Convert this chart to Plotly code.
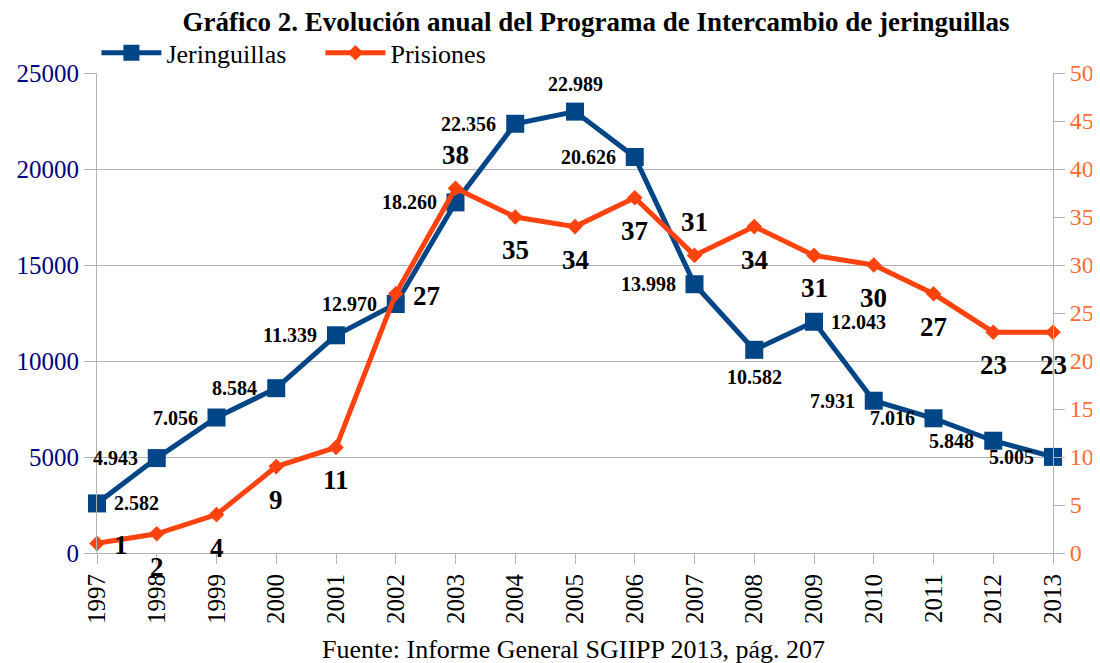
import plotly.graph_objects as go

years = list(range(1997, 2014))
jeringuillas = [2582, 4943, 7056, 8584, 11339, 12970, 18260, 22356, 22989, 20626,
                13998, 10582, 12043, 7931, 7016, 5848, 5005]
prisiones = [1, 2, 4, 9, 11, 27, 38, 35, 34, 37, 31, 34, 31, 30, 27, 23, 23]

# label placement codes (style only)
jer_pos = ['r', 'l', 'l', 'l', 'l', 'l', 'l', 'l', 't', 'l', 'l', 'b', 'r', 'l', 'l', 'l', 'l']
pri_pos = ['r', 'b', 'b', 'b', 'b', 'r', 't', 'b', 'b', 'b', 't', 'b', 'b', 'b', 'b', 'b', 'b']

BLUE = '#004586'
ORANGE = '#ff420e'
GRID = '#b3b3b3'
FONT = '"Liberation Serif", "Times New Roman", serif'

fig = go.Figure()
fig.add_trace(go.Scatter(
    x=years, y=jeringuillas, name='Jeringuillas', mode='lines+markers',
    line=dict(color=BLUE, width=5), marker=dict(symbol='square', size=18, color=BLUE),
    cliponaxis=False, yaxis='y'))
fig.add_trace(go.Scatter(
    x=years, y=prisiones, name='Prisiones', mode='lines+markers',
    line=dict(color=ORANGE, width=5), marker=dict(symbol='diamond', size=12, color=ORANGE),
    cliponaxis=False, yaxis='y2'))

annotations = []

def fmt(v):
    return f"{v:,}".replace(",", ".")

for x, v, p in zip(years, jeringuillas, jer_pos):
    a = dict(x=x, y=v, xref='x', yref='y', text='<b>' + fmt(v) + '</b>', showarrow=False,
             font=dict(family=FONT, size=20, color='black'))
    if p == 'l':
        a.update(xanchor='right', yanchor='middle', xshift=-17)
    elif p == 'r':
        a.update(xanchor='left', yanchor='middle', xshift=15)
    elif p == 't':
        a.update(xanchor='center', yanchor='middle', yshift=28)
    else:
        a.update(xanchor='center', yanchor='middle', yshift=-27)
    annotations.append(a)

for x, v, p in zip(years, prisiones, pri_pos):
    a = dict(x=x, y=v, xref='x', yref='y2', text='<b>' + str(v) + '</b>', showarrow=False,
             font=dict(family=FONT, size=27, color='black'))
    if p == 'r':
        a.update(xanchor='left', yanchor='middle', xshift=15, yshift=-2)
    elif p == 't':
        a.update(xanchor='center', yanchor='middle', yshift=33)
    else:
        a.update(xanchor='center', yanchor='middle', yshift=-33)
    annotations.append(a)

annotations.append(dict(
    text='Fuente: Informe General SGIIPP 2013, pág. 207', xref='paper', yref='paper',
    x=0.498, y=-0.20, xanchor='center', yanchor='middle', showarrow=False,
    font=dict(family=FONT, size=26, color='black')))

fig.update_layout(
    width=1092, height=655,
    margin=dict(l=89, r=47, t=65, b=110, autoexpand=False),
    paper_bgcolor='white', plot_bgcolor='white',
    font=dict(family=FONT, color='black'),
    title=dict(text='<b>Gráfico 2. Evolución anual del Programa de Intercambio de jeringuillas</b>',
               x=0.5385, xanchor='center', y=0.9786, yanchor='middle',
               font=dict(family=FONT, size=27, color='black')),
    legend=dict(orientation='h', x=-0.0006, xanchor='left', y=1.042, yanchor='middle',
                font=dict(family=FONT, size=26, color='black'),
                bgcolor='rgba(0,0,0,0)', itemwidth=60, tracegroupgap=0,
                entrywidth=149, entrywidthmode='pixels'),
    showlegend=True,
    annotations=annotations,
    xaxis=dict(range=[1997, 2013], tickvals=years, ticktext=[str(y) for y in years],
               tickangle=-90, ticks='outside', ticklen=10, tickcolor=GRID,
               showgrid=False, showline=True, linecolor=GRID, linewidth=1,
               zeroline=False, automargin=False,
               tickfont=dict(family=FONT, size=25, color='black')),
    yaxis=dict(range=[0, 25000], dtick=5000, tick0=0, tickformat='d',
               showgrid=True, gridcolor=GRID, automargin=False,
               gridwidth=1, ticks='outside', ticklen=12, tickcolor=GRID,
               showline=True, linecolor=GRID, zeroline=False,
               tickfont=dict(family=FONT, size=25, color='#000080')),
    yaxis2=dict(range=[0, 50], dtick=5, tick0=0, overlaying='y', side='right',
                showgrid=False, ticks='outside', ticklen=11, tickcolor=GRID,
                showline=True, linecolor=GRID, zeroline=False, automargin=False,
                tickfont=dict(family=FONT, size=24, color='#ff6a33')),
)

fig.write_html("out.html")
